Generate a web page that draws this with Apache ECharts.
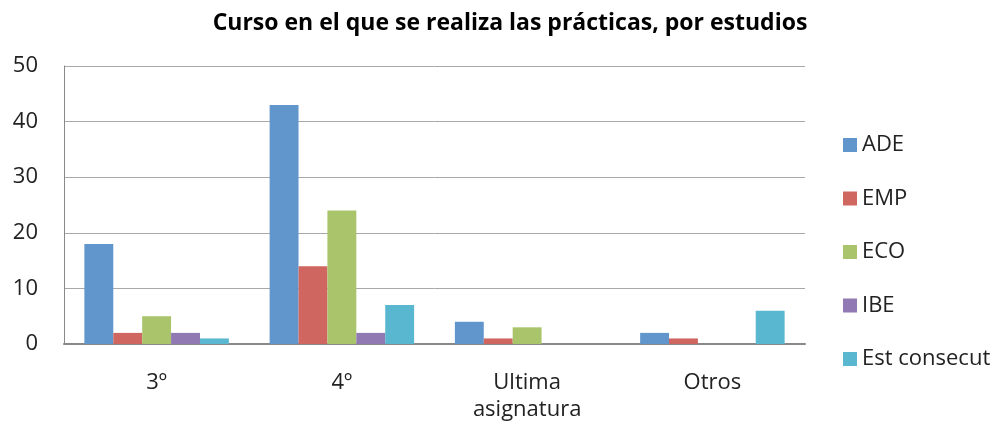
<!DOCTYPE html>
<html><head><meta charset="utf-8">
<script src="https://cdn.jsdelivr.net/npm/echarts@6/dist/echarts.min.js"></script>
<style>html,body{margin:0;padding:0;background:#fff}#c{width:1000px;height:425px}</style>
</head><body><div id="c"></div>
<script>
const categories = ['3º', '4º', 'Ultima\nasignatura', 'Otros'];
const seriesNames = ['ADE', 'EMP', 'ECO', 'IBE', 'Est consecut'];
const ADE = [18, 43, 4, 2];
const EMP = [2, 14, 1, 1];
const ECO = [5, 24, 3, 0];
const IBE = [2, 2, 0, 0];
const EST = [1, 7, 0, 6];
const colors = ['#6196cc', '#cf6660', '#a9c46a', '#9179b4', '#5ab7d0'];
const values = [ADE, EMP, ECO, IBE, EST];
const font = '"Open Sans", "Liberation Sans", sans-serif';
const chart = echarts.init(document.getElementById('c'));
chart.setOption({
  animation: false,
  title: { text: 'Curso en el que se realiza las prácticas, por estudios', left: 505, textAlign: 'center', top: 7,
    textStyle: { fontFamily: font, fontWeight: 'bold', fontSize: 23, color: '#000' } },
  grid: { left: 64, right: 195, top: 66, bottom: 81 },
  legend: { orient: 'vertical', left: 838, top: 129, itemGap: 31.5, itemWidth: 14, itemHeight: 14, icon: 'rect',
    textStyle: { fontFamily: font, fontSize: 22, color: '#222' }, data: seriesNames },
  xAxis: { type: 'category', data: categories,
    axisLine: { lineStyle: { color: '#888', width: 2 } }, axisTick: { show: false },
    axisLabel: { fontFamily: font, fontSize: 22, color: '#222', margin: 25, lineHeight: 27 } },
  yAxis: { type: 'value', min: 0, max: 50, interval: 10,
    axisLine: { show: true, lineStyle: { color: '#888', width: 1 } },
    splitLine: { lineStyle: { color: '#a8a8a8', width: 1 } },
    axisLabel: { fontFamily: font, fontSize: 22, color: '#222', margin: 26 } },
  series: seriesNames.map((n, i) => ({
    name: n, type: 'bar', data: values[i], barGap: '0%', barCategoryGap: '22%',
    itemStyle: { color: colors[i] }
  }))
});
</script></body></html>
